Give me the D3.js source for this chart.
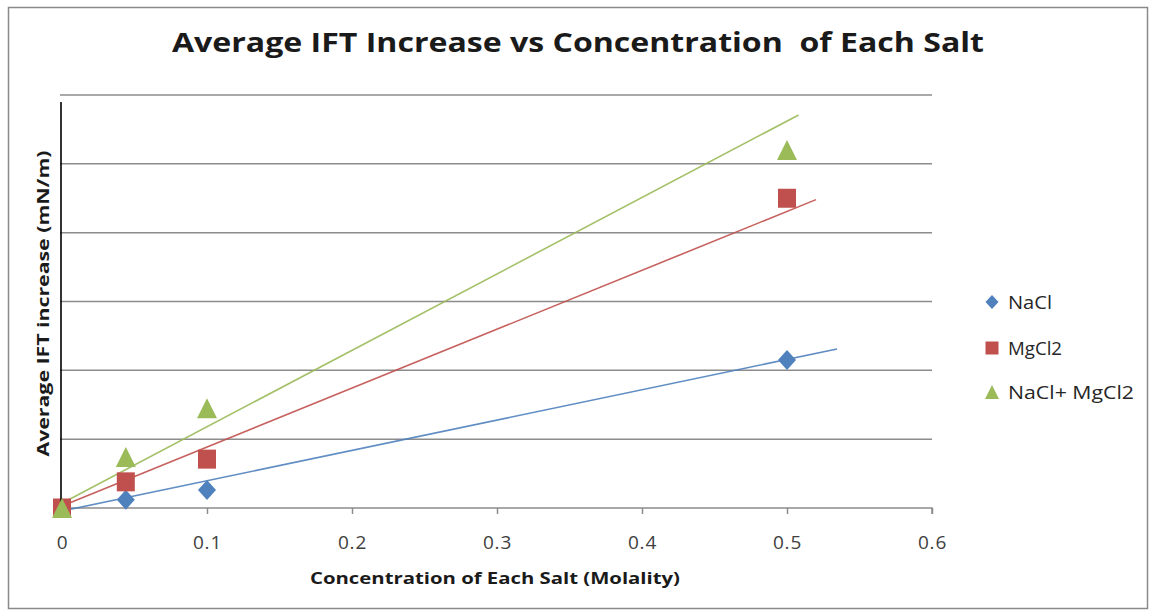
<!DOCTYPE html>
<html>
<head>
<meta charset="utf-8">
<script src="https://cdn.jsdelivr.net/npm/d3@7"></script>
<style>
  html, body { margin: 0; padding: 0; background: #fff; }
  svg { display: block; }
  text { font-family: "Open Sans", Lato, sans-serif; }
</style>
</head>
<body>
<svg id="chart" width="1150" height="610"></svg>
<script>
// Salt concentration (molality) at which IFT was measured
const concentration = [0, 0.044, 0.1, 0.5];

// Average IFT increase (mN/m) for each salt system
const naclValues  = [0, 0.12, 0.26, 2.15];
const mgcl2Values = [0, 0.38, 0.71, 4.5];
const mixValues   = [0, 0.74, 1.45, 5.2];

const seriesNames  = ["NaCl", "MgCl2", "NaCl+ MgCl2"];
const seriesColors = ["#4F81BD", "#C0504D", "#9BBB59"];
const seriesShapes = ["diamond", "square", "triangle"];

// Linear trendlines: value at x = 0 and at the end of each line
const trendStartY = [-0.044, 0.03, 0.07];
const trendEndX   = [0.5345, 0.52, 0.508];
const trendEndY   = [2.31, 4.48, 5.71];

const xTicks = [0, 0.1, 0.2, 0.3, 0.4, 0.5, 0.6];
const yGrid  = [1, 2, 3, 4, 5, 6];

const svg = d3.select("#chart");

const x = d3.scaleLinear().domain([0, 0.6]).range([62, 932]);
const y = d3.scaleLinear().domain([0, 6]).range([508, 95]);

// outer frame
svg.append("rect")
  .attr("x", 8.5).attr("y", 7.5)
  .attr("width", 1139).attr("height", 601)
  .attr("fill", "none").attr("stroke", "#8a8a8a").attr("stroke-width", 1.5);

// title
svg.append("text")
  .attr("x", 578).attr("y", 52)
  .attr("text-anchor", "middle")
  .attr("font-size", 26).attr("font-weight", "bold")
  .attr("fill", "#1a1a1a")
  .attr("textLength", 812).attr("lengthAdjust", "spacingAndGlyphs")
  .style("white-space", "pre")
  .text("Average IFT Increase vs Concentration  of Each Salt");

// horizontal gridlines
svg.append("g").selectAll("line").data(yGrid).join("line")
  .attr("x1", 60).attr("x2", x(0.6))
  .attr("y1", d => y(d)).attr("y2", d => y(d))
  .attr("stroke", "#8c8c8c").attr("stroke-width", 1.5);

// x axis
const xAxis = d3.axisBottom(x)
  .tickValues(xTicks)
  .tickFormat(d => d === 0 ? "0" : d3.format(".1f")(d))
  .tickSize(6).tickPadding(22);

const gx = svg.append("g")
  .attr("transform", `translate(0,${y(0)})`)
  .call(xAxis);
gx.select(".domain").attr("stroke", "#8c8c8c").attr("stroke-width", 1.5)
  .attr("d", `M60,0H${x(0.6)}V6`);
gx.selectAll(".tick line").attr("stroke", "#8c8c8c").attr("stroke-width", 1.5);
gx.selectAll(".tick text")
  .attr("font-size", 19).attr("fill", "#404040")
  .attr("y", 28)
  .style("letter-spacing", "0.8px")
  .style("font-family", "'Open Sans', Lato, sans-serif");

// axis titles
svg.append("text")
  .attr("x", 495).attr("y", 584)
  .attr("text-anchor", "middle")
  .attr("font-size", 15.5).attr("font-weight", "bold")
  .attr("fill", "#1a1a1a")
  .attr("textLength", 370).attr("lengthAdjust", "spacingAndGlyphs")
  .text("Concentration of Each Salt (Molality)");

svg.append("text")
  .attr("transform", `translate(49,${(y(0) + y(6)) / 2 + 2}) rotate(-90)`)
  .attr("text-anchor", "middle")
  .attr("font-size", 15.5).attr("font-weight", "bold")
  .attr("fill", "#1a1a1a")
  .attr("textLength", 306).attr("lengthAdjust", "spacingAndGlyphs")
  .text("Average IFT increase (mN/m)");

// marker path generator, centred on its bounding box
function markerPath(shape, w, h) {
  const a = w / 2, b = h / 2;
  if (shape === "diamond") return `M0,${-b}L${a},0L0,${b}L${-a},0Z`;
  if (shape === "square") return `M${-a},${-b}H${a}V${b}H${-a}Z`;
  return `M0,${-b}L${a},${b}L${-a},${b}Z`;
}
const markerSize = {
  diamond: [18, 20],
  square: [18, 19],
  triangle: [20, 20]
};

const allValues = [naclValues, mgcl2Values, mixValues];

// trendlines
const trends = svg.append("g");
seriesNames.forEach((name, i) => {
  trends.append("line")
    .attr("x1", x(0)).attr("y1", y(trendStartY[i]))
    .attr("x2", x(trendEndX[i])).attr("y2", y(trendEndY[i]))
    .attr("stroke", seriesColors[i])
    .attr("stroke-width", 1.6)
    .attr("opacity", 0.9);
});

function drawSeries(i) {
  const shape = seriesShapes[i];
  const [w, h] = markerSize[shape];
  svg.append("g").selectAll("path")
    .data(concentration.map((c, k) => ({ c, v: allValues[i][k] })))
    .join("path")
    .attr("transform", d => `translate(${x(d.c)},${y(d.v)})`)
    .attr("d", markerPath(shape, w, h))
    .attr("fill", seriesColors[i]);
}

drawSeries(0);
drawSeries(1);

// vertical value axis line
svg.append("line")
  .attr("x1", 61).attr("x2", 61)
  .attr("y1", y(5.9)).attr("y2", y(0))
  .attr("stroke", "#000").attr("stroke-width", 1.6);

drawSeries(2);

// legend
const legend = svg.append("g");
const legendY = [302, 348, 392];
const legendWidth = [44, 54, 126];
seriesNames.forEach((name, i) => {
  const shape = seriesShapes[i];
  const sz = shape === "triangle" ? [14, 14] : (shape === "diamond" ? [13, 14] : [13, 13]);
  legend.append("path")
    .attr("transform", `translate(992,${legendY[i]})`)
    .attr("d", markerPath(shape, sz[0], sz[1]))
    .attr("fill", seriesColors[i]);
  legend.append("text")
    .attr("x", 1008).attr("y", legendY[i] + 7)
    .attr("font-size", 18).attr("fill", "#262626")
    .attr("textLength", legendWidth[i]).attr("lengthAdjust", "spacingAndGlyphs")
    .text(name);
});
</script>
</body>
</html>
